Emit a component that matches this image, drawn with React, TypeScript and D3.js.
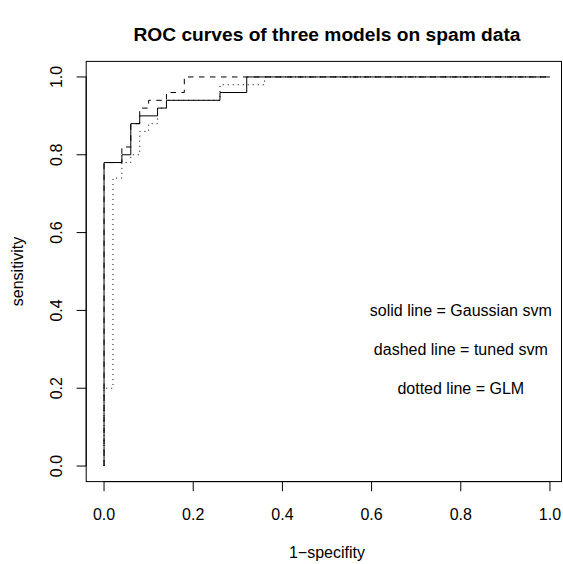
import React from "react";
import * as d3 from "d3";

const W = 563;
const H = 564;

// ROC corner points (false positive rate, true positive rate)
const gaussFpr = [0, 0, 0.04, 0.04, 0.06, 0.06, 0.08, 0.08, 0.12, 0.12, 0.14, 0.14, 0.26, 0.26, 0.32, 0.32, 1];
const gaussTpr = [0, 0.78, 0.78, 0.8, 0.8, 0.88, 0.88, 0.9, 0.9, 0.92, 0.92, 0.94, 0.94, 0.96, 0.96, 1, 1];

const tunedFpr = [0, 0, 0.04, 0.04, 0.06, 0.06, 0.08, 0.08, 0.1, 0.1, 0.14, 0.14, 0.18, 0.18, 1];
const tunedTpr = [0, 0.78, 0.78, 0.82, 0.82, 0.88, 0.88, 0.92, 0.92, 0.94, 0.94, 0.96, 0.96, 1, 1];

const glmFpr = [0, 0, 0.02, 0.02, 0.04, 0.04, 0.06, 0.06, 0.08, 0.08, 0.1, 0.1, 0.12, 0.12, 0.14, 0.14, 0.26, 0.26, 0.36, 0.36, 1];
const glmTpr = [0, 0.2, 0.2, 0.74, 0.74, 0.78, 0.78, 0.8, 0.8, 0.86, 0.86, 0.88, 0.88, 0.92, 0.92, 0.94, 0.94, 0.98, 0.98, 1, 1];

const ticks = [0, 0.2, 0.4, 0.6, 0.8, 1.0];
const tickLabels = ["0.0", "0.2", "0.4", "0.6", "0.8", "1.0"];

const notes = ["solid line = Gaussian svm", "dashed line = tuned svm", "dotted line = GLM"];
const noteX = [0.8, 0.8, 0.8];
const noteY = [0.4, 0.3, 0.2];

const title = "ROC curves of three models on spam data";
const xTitle = "1\u2212specifity";
const yTitle = "sensitivity";

export default function App() {
  const x = d3.scaleLinear().domain([-0.04, 1.04]).range([86.2, 567.8]);
  const y = d3.scaleLinear().domain([-0.04, 1.04]).range([481.6, 61.4]);
  const line = d3
    .line<[number, number]>()
    .x((d) => x(d[0]))
    .y((d) => y(d[1]));
  const pts = (a: number[], b: number[]) => a.map((v, i) => [v, b[i]] as [number, number]);

  const font = "'Liberation Sans', Arial, Helvetica, sans-serif";
  const [x0, x1] = x.range();
  const [yb, yt] = y.range();
  const boxRight = 561.5;
  const cx = (x0 + x1) / 2;
  const cy = (yb + yt) / 2;

  return (
    <svg
      width={W}
      height={H}
      style={{ position: "absolute", left: 0, top: 0, background: "#fff" }}
      fontFamily={font}
    >
      <rect x={0} y={0} width={W} height={H} fill="#fff" />
      <text x={cx} y={41} textAnchor="middle" fontSize={19.2} fontWeight="bold" fill="#000">
        {title}
      </text>
      {/* curves */}
      <path d={line(pts(glmFpr, glmTpr)) || ""} fill="none" stroke="#000" strokeWidth={1} strokeDasharray="1,4" />
      <path d={line(pts(tunedFpr, tunedTpr)) || ""} fill="none" stroke="#000" strokeWidth={1} strokeDasharray="5.5,5.5" />
      <path d={line(pts(gaussFpr, gaussTpr)) || ""} fill="none" stroke="#000" strokeWidth={1} />
      {/* box */}
      <rect x={x0} y={yt} width={boxRight - x0} height={yb - yt} fill="none" stroke="#000" strokeWidth={1} />
      {/* x axis */}
      <line x1={x(0)} x2={x(1)} y1={yb} y2={yb} stroke="#000" />
      {ticks.map((t, i) => (
        <g key={"xt" + i}>
          <line x1={x(t)} x2={x(t)} y1={yb} y2={yb + 9.6} stroke="#000" />
          <text x={x(t)} y={520} textAnchor="middle" fontSize={16} fill="#000">
            {tickLabels[i]}
          </text>
        </g>
      ))}
      {/* y axis */}
      <line x1={x0} x2={x0} y1={y(0)} y2={y(1)} stroke="#000" />
      {ticks.map((t, i) => (
        <g key={"yt" + i}>
          <line x1={x0} x2={x0 - 9.6} y1={y(t)} y2={y(t)} stroke="#000" />
          <text transform={`translate(62,${y(t)}) rotate(-90)`} textAnchor="middle" fontSize={16} fill="#000">
            {tickLabels[i]}
          </text>
        </g>
      ))}
      <text x={cx} y={558} textAnchor="middle" fontSize={16} fill="#000">
        {xTitle}
      </text>
      <text transform={`translate(23,${cy}) rotate(-90)`} textAnchor="middle" fontSize={16} fill="#000">
        {yTitle}
      </text>
      {notes.map((n, i) => (
        <text key={"n" + i} x={x(noteX[i])} y={y(noteY[i])} dy="0.35em" textAnchor="middle" fontSize={16} fill="#000">
          {n}
        </text>
      ))}
    </svg>
  );
}
